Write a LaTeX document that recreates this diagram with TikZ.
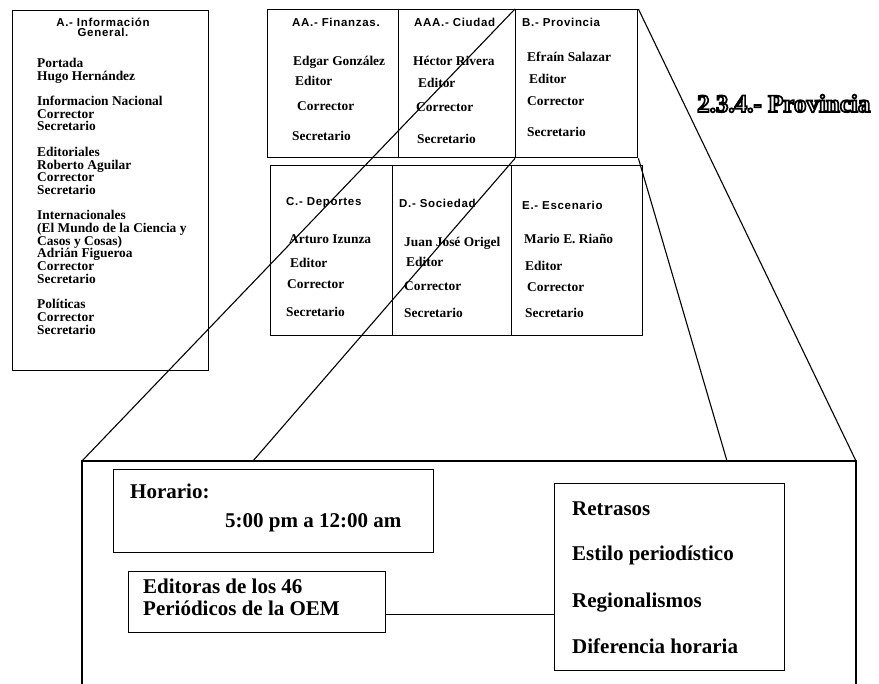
\documentclass[tikz,border=0pt]{standalone}
\usepackage{fontspec}
\setmainfont{Liberation Serif}
\newfontfamily\hdfont{Liberation Sans}[LetterSpace=6]

% outlined title letters (stroke + white fill)
\newcommand\contorno[1]{%
  \special{pdf:literal q 2 Tr 1.7 w 0 G 1 g}#1\special{pdf:literal Q}}

\tikzset{
  caja/.style={draw, line width=1.4pt, inner sep=0pt, anchor=north west},
  txt/.style={font=\fontsize{13.4}{12.7}\selectfont\bfseries, inner sep=0pt, anchor=base west, align=left},
  cabeza/.style={font=\hdfont\fontsize{11.5}{10.5}\selectfont\bfseries, inner sep=0pt, anchor=base west},
  grande/.style={font=\fontsize{21}{22}\selectfont\bfseries, inner sep=0pt, anchor=base west, align=left},
  rayo/.style={line width=1.1pt}
}

\begin{document}
\begin{tikzpicture}[x=1pt, y=-1pt]
\useasboundingbox (0,0) rectangle (879,684);

% left box: general information
\node[caja, minimum width=196pt, minimum height=360pt] (infogral) at (12,10) {};
\node[cabeza, anchor=north, align=center] (infotit) at (103,17.5) {A.- Información\\General.};
\node[txt, anchor=north west] (infotxt) at (37,58) {Portada\\Hugo Hernández\\[12.7pt]%
Informacion Nacional\\Corrector\\Secretario\\[12.7pt]%
Editoriales\\Roberto Aguilar\\Corrector\\Secretario\\[12.7pt]%
Internacionales\\(El Mundo de la Ciencia y\\Casos y Cosas)\\Adrián Figueroa\\Corrector\\Secretario\\[12.7pt]%
Políticas\\Corrector\\Secretario};

% top row
\node[caja, minimum width=131pt, minimum height=148pt] (aa) at (267,9) {};
\node[caja, minimum width=117pt, minimum height=148pt] (aaa) at (398,9) {};
\node[caja, minimum width=122pt, minimum height=148pt] (b) at (515,9) {};

\node[cabeza] (aatit) at (292,27) {AA.- Finanzas.};
\node[txt] (aanom) at (293,66) {Edgar González};
\node[txt] (aaed) at (295,86) {Editor};
\node[txt] (aacor) at (297,111) {Corrector};
\node[txt] (aasec) at (292,141) {Secretario};

\node[cabeza] (aaatit) at (414,27) {AAA.- Ciudad};
\node[txt] (aaanom) at (413,66) {Héctor Rivera};
\node[txt] (aaaed) at (418,88) {Editor};
\node[txt] (aaacor) at (416,112) {Corrector};
\node[txt] (aaasec) at (417,144) {Secretario};

\node[cabeza] (btit) at (522,27) {B.- Provincia};
\node[txt] (bnom) at (527,62) {Efraín Salazar};
\node[txt] (bed) at (529,84) {Editor};
\node[txt] (bcor) at (527,106) {Corrector};
\node[txt] (bsec) at (527,137) {Secretario};

% bottom row
\node[caja, minimum width=122pt, minimum height=170pt] (c) at (270,165) {};
\node[caja, minimum width=119pt, minimum height=170pt] (d) at (392,165) {};
\node[caja, minimum width=131pt, minimum height=170pt] (e) at (511,165) {};

\node[cabeza] (ctit) at (286,206) {C.- Deportes};
\node[txt] (cnom) at (289,244) {Arturo Izunza};
\node[txt] (ced) at (290,268) {Editor};
\node[txt] (ccor) at (287,289) {Corrector};
\node[txt] (csec) at (286,317) {Secretario};

\node[cabeza] (dtit) at (399,208) {D.- Sociedad};
\node[txt] (dnom) at (404,247) {Juan José Origel};
\node[txt] (ded) at (406,267) {Editor};
\node[txt] (dcor) at (404,291) {Corrector};
\node[txt] (dsec) at (404,318) {Secretario};

\node[cabeza] (etit) at (522,210) {E.- Escenario};
\node[txt] (enom) at (524,244) {Mario E. Riaño};
\node[txt] (eed) at (525,271) {Editor};
\node[txt] (ecor) at (527,292) {Corrector};
\node[txt] (esec) at (525,318) {Secretario};

% title
\node[font=\fontsize{25}{25}\selectfont\bfseries, inner sep=0pt, anchor=base west] (titulo) at (697,112) {\contorno{2.3.4.- Provincia}};

% enlarged frame
\coordinate (fTL) at (82,461);
\coordinate (fTR) at (856,461);
\coordinate (fA) at (253,461);
\coordinate (fB) at (727,461);
\draw[line width=1.3pt] (82,684) -- (fTL) -- (fTR) -- (856,684);

% zoom lines
\draw[rayo] (b.north west) -- (fTL);
\draw[rayo] (b.south west) -- (fA);
\draw[rayo] (b.north east) -- (fTR);
\draw[rayo] (b.south east) -- (fB);

% inside the frame
\node[caja, minimum width=320pt, minimum height=83pt] (horario) at (113,469) {};
\node[grande] (hortit) at (130,499) {Horario:};
\node[grande] (horas) at (225,528) {5:00 pm a 12:00 am};

\node[caja, minimum width=257pt, minimum height=61pt] (oem) at (128,571) {};
\node[grande, anchor=north west] (oemtxt) at (143,578.5) {Editoras de los 46\\Periódicos de la OEM};

\node[caja, minimum width=230pt, minimum height=187pt] (temas) at (554,483) {};
\node[grande] (t1) at (572,516) {Retrasos};
\node[grande] (t2) at (572,561) {Estilo periodístico};
\node[grande] (t3) at (572,607) {Regionalismos};
\node[grande] (t4) at (572,653) {Diferencia horaria};

\draw[line width=1pt] ([yshift=-12.5pt]oem.east) -- ([yshift=-12.5pt]oem.east -| temas.west);

\end{tikzpicture}
\end{document}
